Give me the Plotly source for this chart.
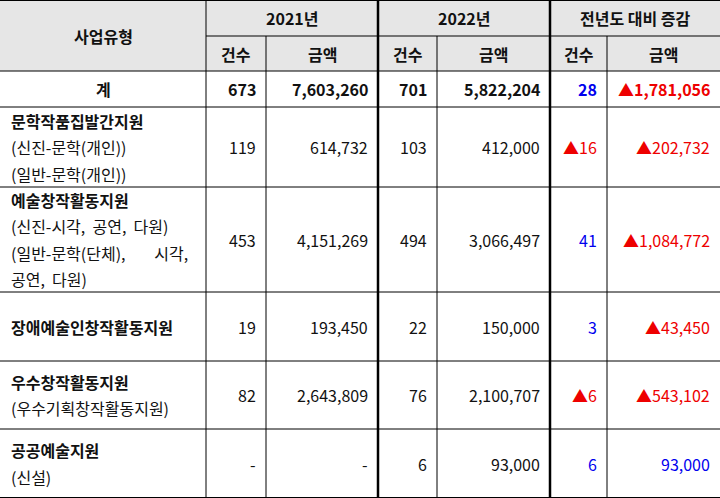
import plotly.graph_objects as go

# data
categories = [
    ["<b>계</b>"],
    ["<b>문학작품집발간지원</b>", "(신진-문학(개인))", "(일반-문학(개인))"],
    ["<b>예술창작활동지원</b>", "(신진-시각,  공연,  다원)", "(일반-문학(단체),        시각,", "공연,  다원)"],
    ["<b>장애예술인창작활동지원</b>"],
    ["<b>우수창작활동지원</b>", "(우수기획창작활동지원)"],
    ["<b>공공예술지원</b>", "(신설)"],
]
cnt_2021 = [673, 119, 453, 19, 82, None]
amt_2021 = [7603260, 614732, 4151269, 193450, 2643809, None]
cnt_2022 = [701, 103, 494, 22, 76, 6]
amt_2022 = [5822204, 412000, 3066497, 150000, 2100707, 93000]
diff_cnt = [28, -16, 41, 3, -6, 6]
diff_amt = [-1781056, -202732, -1084772, -43450, -543102, 93000]

col_x = [0, 206, 266, 378, 437, 550, 607, 720]
row_y = [0, 36, 71, 107, 187, 292, 361, 429, 498]
FONT = "Noto Sans CJK KR"

fig = go.Figure()
shapes = []
ann = []

# header background
shapes.append(dict(type="rect", x0=0, x1=720, y0=0, y1=row_y[2], xref="x", yref="y",
                   fillcolor="#e6e6e6", line_width=0, layer="below"))

def line(x0, y0, x1, y1, w=1):
    shapes.append(dict(type="line", x0=x0, x1=x1, y0=y0, y1=y1, xref="x", yref="y",
                       line=dict(color="black", width=w)))

# horizontal lines
line(0, 0.5, 720, 0.5)
line(206, 36, 720, 36)
for y in row_y[2:-1]:
    line(0, y, 720, y)
line(0, 497.5, 720, 497.5)
# vertical lines
for x in [206, 266, 437, 607]:
    y0 = 0 if x == 206 else 36
    line(x, y0, x, 498)
for x in [378, 550]:
    line(x, 0, x, 498, 2.5)

def text(x, y, s, anchor="center", color="#111", size=16):
    ann.append(dict(x=x, y=y, text=s, xref="x", yref="y", showarrow=False,
                    xanchor=anchor, yanchor="middle",
                    font=dict(family=FONT, size=size, color=color)))

# headers
text(103, 36, "<b>사업유형</b>")
for i, h in enumerate(["2021년", "2022년", "전년도 대비 증감"]):
    text((col_x[1 + 2 * i] + col_x[3 + 2 * i]) / 2, 18, f"<b>{h}</b>")
for i in range(6):
    text((col_x[1 + i] + col_x[2 + i]) / 2, 54, "<b>" + ("건수" if i % 2 == 0 else "금액") + "</b>")

def fmt(v):
    return "-" if v is None else f"{v:,}"

def fmt_diff(v):
    if v < 0:
        return f"▲{-v:,}", "#ee0000"
    return f"{v:,}", "#0000ee"

for r in range(6):
    top, bot = row_y[2 + r], row_y[3 + r]
    mid = (top + bot) / 2
    lines = categories[r]
    if r == 0:
        text(103, mid, lines[0])
    else:
        lh = 26.5
        start = mid - lh * (len(lines) - 1) / 2
        for k, s in enumerate(lines):
            text(9, start + k * lh, s, anchor="left")
    vals = [fmt(cnt_2021[r]), fmt(amt_2021[r]), fmt(cnt_2022[r]), fmt(amt_2022[r])]
    cols = ["#111"] * 4
    for v in [diff_cnt[r], diff_amt[r]]:
        t, c = fmt_diff(v)
        vals.append(t)
        cols.append(c)
    for i, (t, c) in enumerate(zip(vals, cols)):
        if r == 0:
            t = f"<b>{t}</b>"
        text(col_x[2 + i] - 8, mid, t, anchor="right", color=cols[i])

fig.update_layout(
    width=720, height=498, margin=dict(l=0, r=0, t=0, b=0),
    plot_bgcolor="white", paper_bgcolor="white",
    xaxis=dict(range=[0, 720], visible=False, fixedrange=True),
    yaxis=dict(range=[498, 0], visible=False, fixedrange=True),
    shapes=shapes, annotations=ann, showlegend=False,
)
fig.write_html("out.html", config={"displayModeBar": False},
               post_script="document.body.style.margin='0';document.body.style.overflow='hidden';")
